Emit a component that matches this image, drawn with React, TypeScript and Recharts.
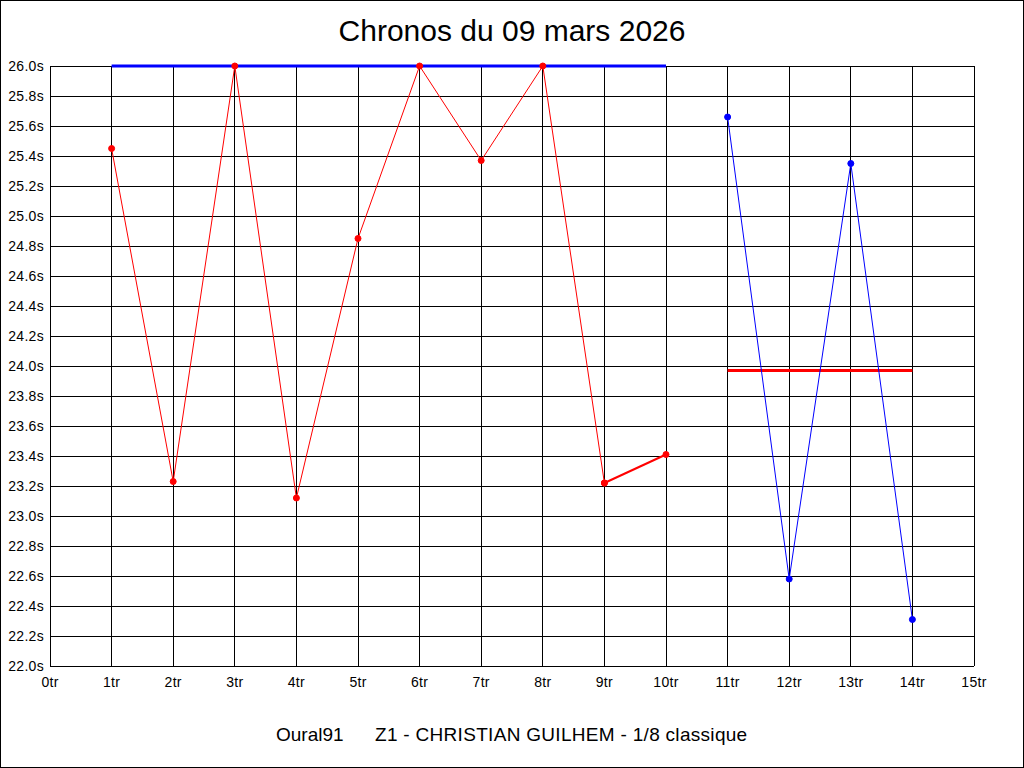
import { LineChart, Line, XAxis, YAxis, CartesianGrid } from 'recharts';

// laps (tours) and times
const laps = [1, 2, 3, 4, 5, 6, 7, 8, 9, 10, 11, 12, 13, 14];
const redTimes = [25.45, 23.23, 26.0, 23.12, 24.85, 26.0, 25.37, 26.0, 23.22]; // tours 1-9
const redEndTimes = [23.22, 23.41]; // tours 9-10
const blueTimes = [25.66, 22.58, 25.35, 22.31]; // tours 11-14
const blueRef = 26.0; // tours 1-10
const redRef = 23.97; // tours 11-14

const xTicks = [0, 1, 2, 3, 4, 5, 6, 7, 8, 9, 10, 11, 12, 13, 14, 15];
const yTicks = [22.0, 22.2, 22.4, 22.6, 22.8, 23.0, 23.2, 23.4, 23.6, 23.8, 24.0, 24.2, 24.4, 24.6, 24.8, 25.0, 25.2, 25.4, 25.6, 25.8, 26.0];

const chartData = laps.map((lap) => ({
  x: lap,
  red: lap <= 9 ? redTimes[lap - 1] : null,
  redEnd: lap >= 9 && lap <= 10 ? redEndTimes[lap - 9] : null,
  blue: lap >= 11 ? blueTimes[lap - 11] : null,
  blueRef: lap <= 10 ? blueRef : null,
  redRef: lap >= 11 ? redRef : null,
}));

const FONT = '"Liberation Sans", Arial, sans-serif';
const tickStyle = { fill: '#000', fontSize: 14, fontFamily: FONT, letterSpacing: 0.3 };
const axisLine = { stroke: '#000', shapeRendering: 'crispEdges' };

export default function App() {
  return (
    <div style={{ position: 'absolute', left: 0, top: 0, width: 1024, height: 768, background: '#fff' }}>
      <LineChart
        width={1024}
        height={768}
        data={chartData}
        margin={{ top: 66, right: 0, bottom: 72, left: 0 }}
        style={{ position: 'absolute', left: 0, top: 0 }}
      >
        <CartesianGrid yAxisId="left" stroke="#000" strokeWidth={1} shapeRendering="crispEdges" />
        <XAxis
          dataKey="x"
          type="number"
          domain={[0, 15]}
          ticks={xTicks}
          interval={0}
          height={30}
          tickLine={false}
          tickSize={6}
          tickMargin={5}
          axisLine={axisLine}
          tick={tickStyle}
          tickFormatter={(v) => `${v}tr`}
        />
        <YAxis
          yAxisId="left"
          orientation="left"
          domain={[22, 26]}
          ticks={yTicks}
          interval={0}
          width={50}
          tickLine={false}
          tickSize={4}
          tickMargin={2}
          axisLine={axisLine}
          tick={tickStyle}
          tickFormatter={(v) => `${v.toFixed(1)}s`}
        />
        <YAxis
          yAxisId="right"
          orientation="right"
          domain={[22, 26]}
          ticks={yTicks}
          interval={0}
          width={50}
          tickLine={false}
          tickSize={4}
          tickMargin={2}
          axisLine={axisLine}
          tick={tickStyle}
          tickFormatter={(v) => `${v.toFixed(1)}s`}
        />
        <Line yAxisId="left" dataKey="blueRef" stroke="#0000ff" strokeWidth={3} dot={false} isAnimationActive={false} />
        <Line yAxisId="left" dataKey="redRef" stroke="#ff0000" strokeWidth={3} dot={false} isAnimationActive={false} />
        <Line
          yAxisId="left"
          dataKey="red"
          stroke="#ff0000"
          strokeWidth={1}
          dot={{ r: 3, fill: '#ff0000', stroke: '#ff0000', strokeWidth: 1 }}
          isAnimationActive={false}
        />
        <Line
          yAxisId="left"
          dataKey="redEnd"
          stroke="#ff0000"
          strokeWidth={2}
          dot={{ r: 3, fill: '#ff0000', stroke: '#ff0000', strokeWidth: 1 }}
          isAnimationActive={false}
        />
        <Line
          yAxisId="left"
          dataKey="blue"
          stroke="#0000ff"
          strokeWidth={1}
          dot={{ r: 3, fill: '#0000ff', stroke: '#0000ff', strokeWidth: 1 }}
          isAnimationActive={false}
        />
      </LineChart>
      <div
        style={{
          position: 'absolute',
          left: 0,
          top: 14,
          width: 1024,
          textAlign: 'center',
          fontFamily: FONT,
          fontSize: 30,
          color: '#000',
        }}
      >
        Chronos du 09 mars 2026
      </div>
      <div
        style={{
          position: 'absolute',
          left: 276,
          top: 724,
          fontFamily: FONT,
          fontSize: 19,
          color: '#000',
          whiteSpace: 'pre',
        }}
      >
        Oural91
      </div>
      <div
        style={{
          position: 'absolute',
          left: 375,
          top: 724,
          fontFamily: FONT,
          fontSize: 19,
          letterSpacing: 0.3,
          color: '#000',
          whiteSpace: 'pre',
        }}
      >
        Z1 - CHRISTIAN GUILHEM - 1/8 classique
      </div>
      <div
        style={{
          position: 'absolute',
          left: 0,
          top: 0,
          width: 1024,
          height: 768,
          boxSizing: 'border-box',
          border: '1px solid #000',
          pointerEvents: 'none',
        }}
      />
    </div>
  );
}
